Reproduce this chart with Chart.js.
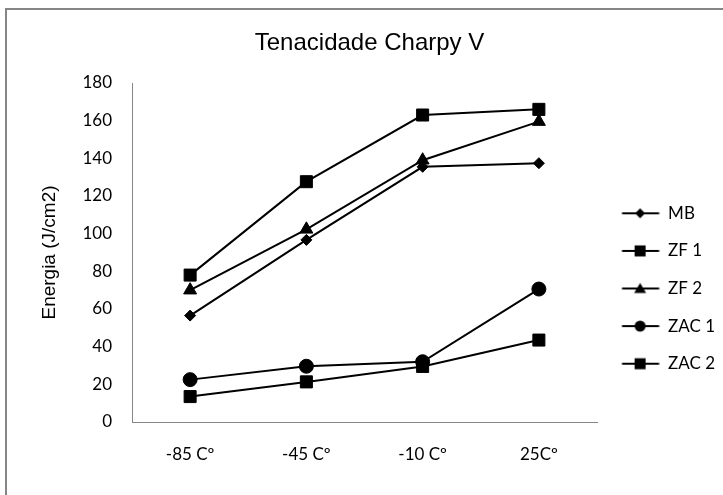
<!DOCTYPE html>
<html><head><meta charset="utf-8">
<script src="https://cdn.jsdelivr.net/npm/chart.js@4/dist/chart.umd.min.js"></script>
<style>html,body{margin:0;padding:0;background:#fff}#wrap{width:723px;height:495px;position:relative}</style>
</head><body><div id="wrap"><canvas id="c" width="723" height="495"></canvas></div>
<script>
// ---- data ----
const categories = ['-85 Cº', '-45 Cº', '-10 Cº', '25Cº'];
const seriesNames = ['MB', 'ZF 1', 'ZF 2', 'ZAC 1', 'ZAC 2'];
const mbValues   = [56.5, 96.7, 135.5, 137.4];
const zf1Values  = [78, 127.6, 163, 166];
const zf2Values  = [70, 102.3, 139, 159.5];
const zac1Values = [22.5, 29.6, 32, 70.6];
const zac2Values = [13.5, 21.3, 29.5, 43.5];
const yMin = 0, yMax = 180, yStep = 20;
const chartTitle = 'Tenacidade Charpy V';
const yTitle = 'Energia (J/cm2)';

// ---- styles ----
const markerStyles = ['rectRot', 'rect', 'triangle', 'circle', 'rect'];
const markerRadii  = [5.5, 8.5, 7.5, 7, 8.5];
const allValues = [mbValues, zf1Values, zf2Values, zac1Values, zac2Values];

function makeLegendImg(style) {
  const cv = document.createElement('canvas');
  cv.width = 42; cv.height = 18;
  const g = cv.getContext('2d');
  g.strokeStyle = '#000'; g.fillStyle = '#000'; g.lineWidth = 2;
  g.beginPath(); g.moveTo(4.4, 9); g.lineTo(41.4, 9); g.stroke();
  const cx = 22.5, cy = 9;
  g.beginPath();
  if (style === 'rect') { g.rect(cx - 5.5, cy - 5.5, 11, 11); }
  else if (style === 'rectRot') { g.moveTo(cx - 5, cy); g.lineTo(cx, cy - 5); g.lineTo(cx + 5, cy); g.lineTo(cx, cy + 5); g.closePath(); }
  else if (style === 'triangle') { g.moveTo(cx, cy - 5.5); g.lineTo(cx + 6, cy + 4.5); g.lineTo(cx - 6, cy + 4.5); g.closePath(); }
  else if (style === 'circle') { g.arc(cx, cy, 5.5, 0, Math.PI * 2); }
  g.fill();
  return cv;
}
const legendImgs = markerStyles.map(makeLegendImg);

const datasets = seriesNames.map((name, i) => ({
  label: name,
  data: allValues[i],
  borderColor: '#000',
  backgroundColor: '#000',
  borderWidth: 2,
  pointStyle: markerStyles[i],
  pointRadius: markerRadii[i],
  pointHoverRadius: markerRadii[i],
  pointBorderWidth: 1,
  pointBackgroundColor: '#000',
  pointBorderColor: '#000',
  tension: 0,
  fill: false
}));

const PAD_LEFT = 16, PAD_TOP = 10, PAD_BOTTOM = 10, PAD_RIGHT = 0;
const AREA_LEFT = 132, AREA_RIGHT = 597, AREA_BOTTOM = 422;
const LEGEND_SHIFT = 41;

const framePlugin = {
  id: 'frame',
  beforeDraw(chart) {
    const ctx = chart.ctx;
    ctx.save();
    ctx.fillStyle = '#fff';
    ctx.fillRect(0, 0, chart.width, chart.height);
    ctx.strokeStyle = '#868686';
    ctx.lineWidth = 2;
    ctx.strokeRect(6, 9, 900, 700);
    ctx.restore();
  },
  beforeLayout(chart) {
    const lg = chart.legend;
    if (lg && !lg._fixedW) {
      const f = lg.fit;
      lg.fit = function () { f.call(this); this.width = 723 - PAD_RIGHT - AREA_RIGHT; };
      lg._fixedW = true;
    }
  },
  afterLayout(chart) {
    const lg = chart.legend;
    if (lg) { lg.top += LEGEND_SHIFT; lg.bottom += LEGEND_SHIFT; }
  }
};

new Chart(document.getElementById('c'), {
  type: 'line',
  data: { labels: categories, datasets },
  plugins: [framePlugin],
  options: {
    responsive: false,
    animation: false,
    layout: { padding: { left: PAD_LEFT, top: PAD_TOP, bottom: PAD_BOTTOM, right: PAD_RIGHT } },
    plugins: {
      title: {
        display: true, text: chartTitle, color: '#000',
        font: { family: '"Liberation Sans", Arial, sans-serif', size: 24, weight: 'normal' },
        padding: { top: 19, bottom: 25.2 }
      },
      legend: {
        position: 'right',
        labels: {
          color: '#000',
          font: { family: 'Lato, sans-serif', size: 17 },
          usePointStyle: true,
          pointStyleWidth: 42,
          padding: 20.6,
          generateLabels(chart) {
            const items = Chart.defaults.plugins.legend.labels.generateLabels(chart);
            items.forEach((it, i) => { it.pointStyle = legendImgs[i]; });
            return items;
          }
        }
      },
      tooltip: { enabled: false }
    },
    scales: {
      x: {
        offset: true,
        grid: { display: false, drawTicks: false },
        border: { display: true, color: '#868686', width: 1 },
        ticks: { color: '#000', font: { family: 'Lato, sans-serif', size: 17 }, padding: 22, maxRotation: 0 },
        afterFit(s) { s.height = 495 - PAD_BOTTOM - AREA_BOTTOM; }
      },
      y: {
        min: yMin, max: yMax,
        grid: { display: false, drawTicks: false },
        border: { display: true, color: '#868686', width: 1 },
        ticks: { stepSize: yStep, color: '#000', font: { family: 'Lato, sans-serif', size: 17 }, padding: 20 },
        title: {
          display: true, text: yTitle, color: '#000',
          font: { family: 'Liberation Sans, Arial, sans-serif', size: 19, weight: 'normal' },
          padding: { top: 22, bottom: 0 }
        },
        afterFit(s) { s.width = AREA_LEFT - PAD_LEFT; }
      }
    }
  }
});
</script>
</body></html>
